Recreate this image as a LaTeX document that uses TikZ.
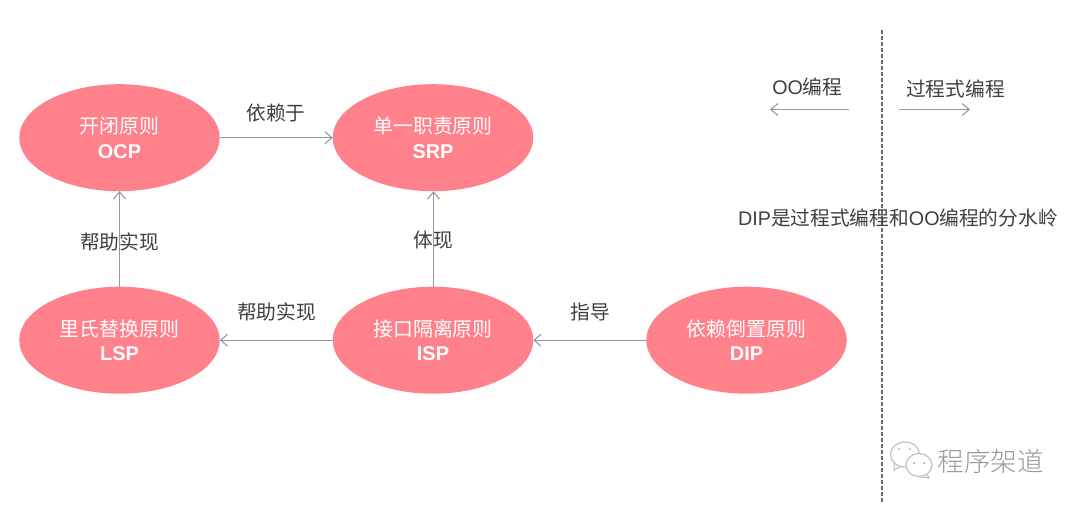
\documentclass[tikz,border=0pt]{standalone}
\usepackage{fontspec}
\usetikzlibrary{arrows.meta,shapes.geometric}
\setmainfont{Liberation Sans}
\newfontfamily\cjk{Noto Sans CJK SC}
\newfontfamily\cjklight{Noto Sans CJK SC Light}
\definecolor{blob}{HTML}{FF818C}
\definecolor{wire}{HTML}{8C99AB}
\definecolor{ink}{HTML}{404040}
\tikzset{
  x=1pt,y=-1pt,
  principle/.style={ellipse,fill=blob,text=white,minimum width=200.5pt,minimum height=107pt,inner sep=0pt,align=center,
    font=\fontsize{19.9}{24}\selectfont,line width=0pt},
  link/.style={draw=wire,line width=1.25pt,-{Straight Barb[length=7pt,width=12pt,line width=1.1pt]}},
  caption/.style={text=ink,inner sep=0pt,font=\fontsize{19.7}{24}\selectfont\cjk},
  wmark/.style={text=black!40,inner sep=0pt,font=\fontsize{26.5}{28}\selectfont\cjklight},
  bubble/.style={ellipse,draw=black!28,line width=1pt,fill=white,inner sep=0pt},
  eye/.style={circle,fill=black!35,minimum size=2pt,inner sep=0pt},
}
\newcommand{\twoline}[2]{{\cjk #1}\\[0.4pt]{\bfseries #2}}
\begin{document}
\begin{tikzpicture}
\useasboundingbox (0,0) rectangle (1080,509);
\fill[white] (0,0) rectangle (1080,509);

% the five principles
\node[principle] (ocp) at (119.5,137.7) {\twoline{开闭原则}{OCP}};
\node[principle] (srp) at (433,137.7) {\twoline{单一职责原则}{SRP}};
\node[principle] (lsp) at (119.5,340.2) {\twoline{里氏替换原则}{LSP}};
\node[principle] (isp) at (433,340.2) {\twoline{接口隔离原则}{ISP}};
\node[principle] (dip) at (746.5,340.2) {\twoline{依赖倒置原则}{DIP}};

% relations between the principles
\draw[link] (ocp) -- (srp);
\draw[link] (lsp) -- (ocp);
\draw[link] ([xshift=.5pt]isp.north) -- ([xshift=.5pt]srp.south);
\draw[link] (isp) -- (lsp);
\draw[link] (dip) -- (isp);

\node[caption] (dep) at (276,113) {依赖于};
\node[caption] (h1) at (119.5,242) {帮助实现};
\node[caption] (rep) at (433,240) {体现};
\node[caption] (h2) at (276.5,312) {帮助实现};
\node[caption] (gui) at (590.5,312) {指导};

% the divide and its legend
\coordinate (top) at (882,30);
\coordinate (bottom) at (882,503);
\draw[black!58,line width=1.5pt,dash pattern=on 3.5pt off 2.5pt] (top) -- (bottom);

\node[caption] (oo) at (807.3,87) {{\rmfamily OO}编程};
\node[caption] (proc) at (955.5,89) {过程式编程};
\coordinate (ooa) at (849,109.5);
\coordinate (oob) at (770,109.5);
\coordinate (proca) at (899,109.5);
\coordinate (procb) at (970,109.5);
\draw[link] (ooa) -- (oob);
\draw[link] (proca) -- (procb);

\node[caption,anchor=west] (note) at (738,218) {{\rmfamily DIP}是过程式编程和{\rmfamily OO}编程的分水岭};

% channel mark in the corner
\node[bubble,minimum width=29pt,minimum height=25pt] (bb) at (905,454.5) {};
\draw[black!28,line width=1pt] (bb.-140) -- (894,470) -- (bb.-110);
\node[bubble,minimum width=26pt,minimum height=23pt] (bf) at (919,465) {};
\draw[black!28,line width=1pt] (bf.-50) -- (929,478) -- (bf.-80);
\node[eye] (e1) at (899,449) {};
\node[eye] (e2) at (910,449) {};
\node[eye] (e3) at (914,463) {};
\node[eye] (e4) at (924,463) {};
\node[wmark,anchor=west] (wm) at (937.5,461) {程序架道};
\end{tikzpicture}
\end{document}
